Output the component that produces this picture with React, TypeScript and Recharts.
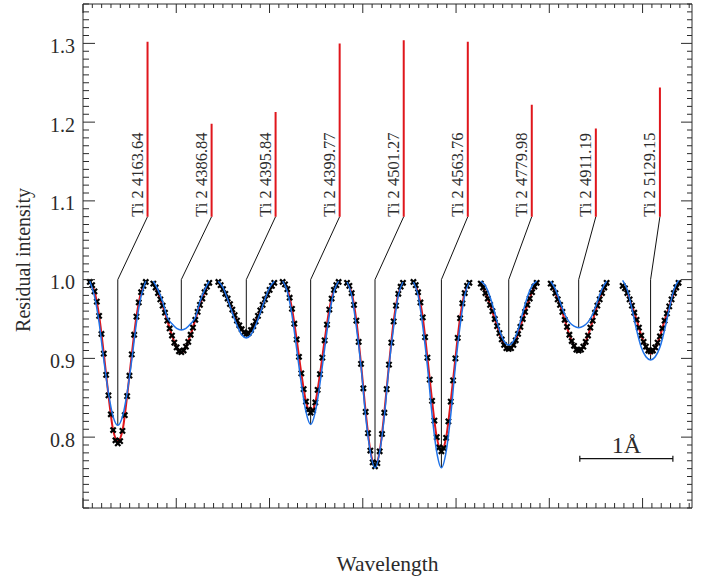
import React from 'react';
import { ComposedChart, Line, Scatter, XAxis, YAxis } from 'recharts';

const FONT = 'Liberation Serif, Times New Roman, Times, DejaVu Serif, serif';
const INK = '#2b2b2b';
const RED = '#e0161c';
const BLUE = '#1f72e8';

// Ti II lines, positions in Å counted from the left edge of the frame
const LINE_NAMES = [
  'Ti 2 4163.64', 'Ti 2 4386.84', 'Ti 2 4395.84', 'Ti 2 4399.77', 'Ti 2 4501.27',
  'Ti 2 4563.76', 'Ti 2 4779.98', 'Ti 2 4911.19', 'Ti 2 5129.15',
];
const CENTERS = [0.373, 1.054, 1.751, 2.441, 3.131, 3.843, 4.565, 5.315, 6.086];
const LABEL_X = [0.692, 1.379, 2.065, 2.752, 3.439, 4.126, 4.812, 5.499, 6.186];
const LABEL_TOP = [1.302, 1.198, 1.213, 1.3, 1.304, 1.302, 1.222, 1.192, 1.244];
const LABEL_BASE = 1.08;
const CONTINUUM = 1.0;

// offsets from line centre (Å) of the observed points and of the fitted curves
const OBS_OFFSETS = [
  -0.3, -0.275, -0.25, -0.225, -0.2, -0.175, -0.15, -0.125, -0.1, -0.075, -0.05, -0.025, 0,
  0.025, 0.05, 0.075, 0.1, 0.125, 0.15, 0.175, 0.2, 0.225, 0.25, 0.275, 0.3,
];
const FIT_OFFSETS = [-0.3, -0.25, -0.2, -0.15, -0.1, -0.05, 0, 0.05, 0.1, 0.15, 0.2, 0.25, 0.3];

// observed spectrum (black crosses)
const OBS_1 = [.997, .993, .985, .972, .954, .931, .906, .879, .853, .829, .809, .796, .792, .795, .808, .828, .852, .878, .905, .930, .953, .971, .984, .992, .997];
const OBS_2 = [.995, .990, .983, .975, .967, .958, .948, .938, .929, .920, .914, .909, .908, .910, .915, .921, .930, .939, .949, .959, .968, .976, .984, .991, .996];
const OBS_3 = [.997, .993, .988, .982, .976, .969, .962, .955, .948, .942, .937, .933, .931, .932, .936, .941, .947, .954, .961, .968, .975, .981, .987, .992, .996];
const OBS_4 = [.997, .994, .988, .977, .963, .944, .924, .902, .881, .861, .845, .835, .831, .834, .844, .860, .880, .901, .923, .943, .962, .976, .987, .993, .997];
const OBS_5 = [.996, .992, .983, .968, .948, .921, .893, .862, .832, .805, .783, .768, .763, .767, .782, .804, .831, .861, .892, .920, .947, .967, .982, .991, .996];
const OBS_6 = [.997, .993, .984, .971, .952, .927, .901, .873, .846, .821, .800, .787, .782, .786, .799, .820, .845, .872, .900, .926, .951, .970, .983, .992, .996];
const OBS_7 = [.995, .990, .983, .976, .968, .960, .950, .941, .932, .924, .917, .913, .912, .913, .917, .923, .931, .940, .950, .959, .968, .976, .984, .991, .996];
const OBS_8 = [.995, .990, .983, .975, .968, .959, .949, .940, .930, .922, .916, .911, .910, .911, .915, .921, .929, .939, .948, .958, .967, .975, .983, .990, .996];
const OBS_9 = [.992, .989, .983, .975, .967, .958, .949, .939, .929, .921, .915, .910, .909, .910, .914, .920, .928, .938, .948, .957, .966, .975, .983, .990, .996];

// fit to the observations (red)
const FIT_1 = [.997, .985, .954, .906, .853, .809, .795, .808, .852, .905, .953, .984, .997];
const FIT_2 = [.995, .983, .967, .948, .929, .914, .907, .915, .930, .949, .968, .984, .996];
const FIT_3 = [.997, .988, .976, .962, .948, .937, .931, .936, .947, .961, .975, .987, .996];
const FIT_4 = [.997, .988, .963, .924, .881, .845, .832, .844, .880, .923, .962, .987, .997];
const FIT_5 = [.996, .983, .948, .893, .832, .783, .764, .782, .831, .892, .947, .982, .996];
const FIT_6 = [.997, .984, .952, .901, .846, .800, .783, .799, .845, .900, .951, .983, .996];
const FIT_7 = [.995, .983, .968, .950, .932, .917, .911, .917, .931, .950, .968, .984, .996];
const FIT_8 = [.995, .983, .968, .949, .930, .916, .909, .915, .929, .948, .967, .983, .996];
const FIT_9 = [.993, .983, .967, .949, .929, .914, .906, .913, .928, .948, .966, .983, .996];

// synthetic model profiles (blue)
const MOD_1 = [.998, .979, .945, .898, .856, .826, .815, .826, .856, .898, .945, .979, .998];
const MOD_2 = [.998, .987, .972, .952, .944, .938, .936, .938, .944, .952, .972, .987, .998];
const MOD_3 = [.998, .990, .975, .958, .942, .930, .926, .930, .942, .958, .975, .990, .998];
const MOD_4 = [.998, .985, .955, .912, .868, .832, .816, .832, .868, .912, .955, .985, .998];
const MOD_5 = [.997, .980, .940, .890, .826, .781, .761, .781, .826, .890, .940, .980, .997];
const MOD_6 = [.997, .980, .941, .890, .828, .781, .761, .781, .828, .890, .941, .980, .997];
const MOD_7 = [.998, .992, .978, .958, .936, .922, .917, .922, .936, .958, .978, .992, .998];
const MOD_8 = [.998, .988, .972, .956, .946, .941, .939, .941, .946, .956, .972, .988, .998];
const MOD_9 = [.999, .987, .963, .936, .914, .902, .898, .902, .914, .936, .963, .987, .999];

const OBS = [OBS_1, OBS_2, OBS_3, OBS_4, OBS_5, OBS_6, OBS_7, OBS_8, OBS_9];
const FIT = [FIT_1, FIT_2, FIT_3, FIT_4, FIT_5, FIT_6, FIT_7, FIT_8, FIT_9];
const MODEL = [MOD_1, MOD_2, MOD_3, MOD_4, MOD_5, MOD_6, MOD_7, MOD_8, MOD_9];

// 1 Å scale bar
const SCALE_X = [5.327, 6.325];
const SCALE_Y = 0.7726;
const SCALE_END = 0.0038;
const SCALE_TEXT = '1Å';

const X_DOMAIN = [0, 6.53];
const Y_DOMAIN = [0.71, 1.35];
const Y_LABELS = [0.8, 0.9, 1.0, 1.1, 1.2, 1.3];
const X_TICKS = Array.from({ length: 66 }, (_, i) => i / 10);
const Y_TICKS = Array.from({ length: 65 }, (_, i) => (71 + i) / 100);

type Row = { x: number; y: number | null; name?: string };

function segments(values: number[][], offsets: number[]): Row[] {
  const rows: Row[] = [];
  values.forEach((vals, i) => {
    vals.forEach((v, k) => rows.push({ x: CENTERS[i] + offsets[k], y: v }));
    rows.push({ x: CENTERS[i] + 0.33, y: null });
  });
  return rows;
}

const obsPoints: Row[] = OBS.flatMap((vals, i) => vals.map((v, k) => ({ x: CENTERS[i] + OBS_OFFSETS[k], y: v })));
const fitRows = segments(FIT, FIT_OFFSETS);
const modelRows = segments(MODEL, FIT_OFFSETS);

const redTicks: Row[] = LABEL_X.flatMap((lx, i) => [
  { x: lx, y: LABEL_BASE }, { x: lx, y: LABEL_TOP[i] }, { x: lx, y: null },
]);
const connectors: Row[] = LABEL_X.flatMap((lx, i) => [
  { x: lx, y: LABEL_BASE },
  { x: CENTERS[i], y: CONTINUUM },
  { x: CENTERS[i], y: Math.min(...MODEL[i]) },
  { x: CENTERS[i], y: null },
]);
const labelPoints: Row[] = LABEL_X.map((lx, i) => ({ x: lx, y: LABEL_BASE, name: LINE_NAMES[i] }));

const scaleRows: Row[] = [
  { x: SCALE_X[0], y: SCALE_Y }, { x: SCALE_X[1], y: SCALE_Y }, { x: SCALE_X[1], y: null },
  { x: SCALE_X[0], y: SCALE_Y - SCALE_END }, { x: SCALE_X[0], y: SCALE_Y + SCALE_END }, { x: SCALE_X[0], y: null },
  { x: SCALE_X[1], y: SCALE_Y - SCALE_END }, { x: SCALE_X[1], y: SCALE_Y + SCALE_END },
];
const scaleLabel: Row[] = [{ x: (SCALE_X[0] + SCALE_X[1]) / 2, y: SCALE_Y, name: SCALE_TEXT }];

const textStyle = { fontFamily: FONT };

function Cross(props: any) {
  const { cx, cy } = props;
  if (cx == null || cy == null) return <g />;
  const s = 2.6;
  return (
    <g stroke="#000" strokeWidth={2.2}>
      <line x1={cx - s} y1={cy - s} x2={cx + s} y2={cy + s} />
      <line x1={cx - s} y1={cy + s} x2={cx + s} y2={cy - s} />
    </g>
  );
}

function LineLabel(props: any) {
  const { cx, cy, payload } = props;
  const x = cx - 5;
  return (
    <text x={x} y={cy} transform={`rotate(-90 ${x} ${cy})`} fontSize={16.5} style={textStyle} fill={INK}>
      {payload.name}
    </text>
  );
}

function ScaleLabel(props: any) {
  const { cx, cy, payload } = props;
  return (
    <text x={cx} y={cy - 6} textAnchor="middle" fontSize={24} style={textStyle} fill={INK}>
      {payload.name}
    </text>
  );
}

function XTitle({ viewBox }: any) {
  const vb = viewBox || { x: 83, y: 508, width: 609, height: 75 };
  return (
    <text x={vb.x + vb.width / 2} y={vb.y + vb.height - 12} textAnchor="middle" fontSize={21.5} style={textStyle} fill={INK}>
      Wavelength
    </text>
  );
}

function YTitle({ viewBox }: any) {
  const vb = viewBox || { x: 0, y: 4, width: 83, height: 504 };
  const x = vb.x + 30;
  const y = vb.y + vb.height / 2 + 4;
  return (
    <text x={x} y={y} transform={`rotate(-90 ${x} ${y})`} textAnchor="middle" fontSize={20} style={textStyle} fill={INK}>
      Residual intensity
    </text>
  );
}

function XTick({ x, y, payload, side }: any) {
  const v = payload.value;
  const major = Math.abs(v - Math.round(v)) < 1e-6;
  const len = side === 'bottom' ? (major ? 10 : 5) : (major ? 9 : 4);
  const dir = side === 'bottom' ? -1 : 1;
  return <line x1={x} y1={y} x2={x} y2={y + dir * len} stroke={INK} strokeWidth={1} />;
}

function YTick({ x, y, payload, side }: any) {
  const v = payload.value;
  const major = Math.round(v * 100) % 10 === 0;
  const len = major ? (side === 'left' ? 12 : 11) : (side === 'left' ? 6 : 5);
  const dir = side === 'left' ? 1 : -1;
  const labelled = side === 'left' && Y_LABELS.some((l) => Math.abs(l - v) < 1e-6);
  return (
    <g>
      <line x1={x} y1={y} x2={x + dir * len} y2={y} stroke={INK} strokeWidth={1} />
      {labelled && (
        <text x={x - 8} y={y + 9.5} textAnchor="end" fontSize={20} style={textStyle} fill={INK}>
          {v.toFixed(1)}
        </text>
      )}
    </g>
  );
}

const axisLine = { stroke: INK, strokeWidth: 1 };

export default function App() {
  return (
    <div style={{ position: 'absolute', left: 0, top: 0, width: 712, height: 583, background: '#fff', fontFamily: FONT }}>
      <ComposedChart width={712} height={583} margin={{ top: 0, right: 0, bottom: 0, left: 0 }}>
        <XAxis
          xAxisId="bottom"
          dataKey="x"
          type="number"
          domain={X_DOMAIN}
          allowDataOverflow
          ticks={X_TICKS}
          interval={0}
          tickSize={0}
          tickMargin={0}
          tickLine={false}
          axisLine={axisLine}
          height={75}
          tick={(p: any) => <XTick {...p} side="bottom" />}
          label={{ content: (p: any) => <XTitle {...p} /> }}
        />
        <XAxis
          xAxisId="top"
          orientation="top"
          dataKey="x"
          type="number"
          domain={X_DOMAIN}
          allowDataOverflow
          ticks={X_TICKS}
          interval={0}
          tickSize={0}
          tickMargin={0}
          tickLine={false}
          axisLine={axisLine}
          height={4}
          tick={(p: any) => <XTick {...p} side="top" />}
        />
        <YAxis
          yAxisId="left"
          dataKey="y"
          type="number"
          domain={Y_DOMAIN}
          allowDataOverflow
          ticks={Y_TICKS}
          interval={0}
          tickSize={0}
          tickMargin={0}
          tickLine={false}
          axisLine={axisLine}
          width={83}
          tick={(p: any) => <YTick {...p} side="left" />}
          label={{ content: (p: any) => <YTitle {...p} /> }}
        />
        <YAxis
          yAxisId="right"
          orientation="right"
          dataKey="y"
          type="number"
          domain={Y_DOMAIN}
          allowDataOverflow
          ticks={Y_TICKS}
          interval={0}
          tickSize={0}
          tickMargin={0}
          tickLine={false}
          axisLine={axisLine}
          width={20}
          tick={(p: any) => <YTick {...p} side="right" />}
        />

        <Line
          xAxisId="bottom" yAxisId="left" data={connectors} dataKey="y" type="linear"
          stroke="#111" strokeWidth={1} dot={false} activeDot={false} isAnimationActive={false} zIndex={390}
        />
        <Line
          xAxisId="bottom" yAxisId="left" data={redTicks} dataKey="y" type="linear"
          stroke={RED} strokeWidth={2} dot={false} activeDot={false} isAnimationActive={false} zIndex={391}
        />
        <Line
          xAxisId="bottom" yAxisId="left" data={fitRows} dataKey="y" type="monotone"
          stroke={RED} strokeWidth={2} dot={false} activeDot={false} isAnimationActive={false} zIndex={392}
        />
        <Scatter
          xAxisId="bottom" yAxisId="left" data={obsPoints} dataKey="y"
          shape={Cross} isAnimationActive={false} zIndex={393}
        />
        <Line
          xAxisId="bottom" yAxisId="left" data={modelRows} dataKey="y" type="monotone"
          stroke={BLUE} strokeWidth={1.5} dot={false} activeDot={false} isAnimationActive={false} zIndex={394}
        />
        <Line
          xAxisId="bottom" yAxisId="left" data={scaleRows} dataKey="y" type="linear"
          stroke="#111" strokeWidth={1.2} dot={false} activeDot={false} isAnimationActive={false} zIndex={395}
        />
        <Scatter
          xAxisId="bottom" yAxisId="left" data={labelPoints} dataKey="y"
          shape={LineLabel} isAnimationActive={false} zIndex={396}
        />
        <Scatter
          xAxisId="bottom" yAxisId="left" data={scaleLabel} dataKey="y"
          shape={ScaleLabel} isAnimationActive={false} zIndex={397}
        />
      </ComposedChart>
    </div>
  );
}
